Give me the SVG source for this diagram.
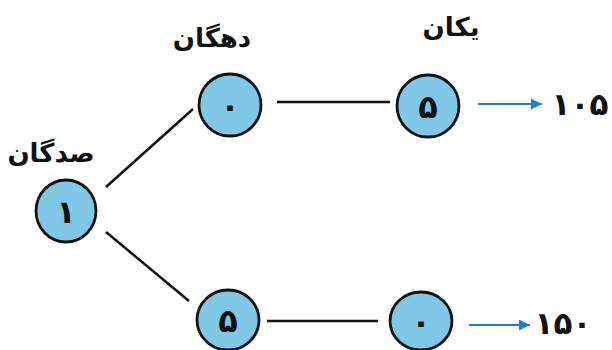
<svg xmlns="http://www.w3.org/2000/svg" width="612" height="350" viewBox="0 0 612 350">
<style>
.node{fill:#80c8e5;stroke:#111;stroke-width:2.8}
.conn{stroke:#111;stroke-width:2.5;fill:none}
.arr{stroke:#1e7fd2;stroke-width:2.2;fill:none}
.lbl{font-family:"DejaVu Sans",sans-serif;font-weight:bold;font-size:26px;fill:#111}
.res{font-family:"DejaVu Sans",sans-serif;font-weight:bold;font-size:31px;fill:#111;text-anchor:middle}
.dig{font-family:"DejaVu Sans",sans-serif;font-weight:bold;font-size:32px;fill:#111;text-anchor:middle}
</style>
<defs>
<marker id="ah" viewBox="0 0 10 10" refX="10" refY="5" markerWidth="20" markerHeight="11" markerUnits="userSpaceOnUse" orient="auto">
<path d="M0,0 L10,5 L0,10 Z" fill="#1e7fd2"/>
</marker>
</defs>
<rect width="612" height="350" fill="#fff"/>
<g id="connectors">
<line class="conn" x1="106" y1="187" x2="193" y2="109"/>
<line class="conn" x1="106" y1="232" x2="189" y2="301"/>
<line class="conn" x1="277" y1="102" x2="390" y2="102"/>
<line class="conn" x1="267" y1="321" x2="378" y2="321"/>
<line class="arr" x1="478" y1="104" x2="542" y2="104" marker-end="url(#ah)"/>
<line class="arr" x1="469" y1="325" x2="530" y2="325" marker-end="url(#ah)"/>
</g>
<g id="label-sadgan"><text class="lbl" x="51" y="162" text-anchor="middle" direction="rtl">صدگان</text></g>
<g id="label-dahgan"><text class="lbl" x="212" y="47" text-anchor="middle" direction="rtl">دهگان</text></g>
<g id="label-yekan"><text class="lbl" x="451" y="36" text-anchor="middle" direction="rtl">یکان</text></g>
<g id="node-hundreds"><ellipse class="node" cx="66" cy="211" rx="30" ry="31"/><text class="dig" x="66" y="223">۱</text></g>
<g id="node-tens-top"><ellipse class="node" cx="230" cy="105" rx="31" ry="31"/><text class="dig" x="230" y="117">۰</text></g>
<g id="node-ones-top"><ellipse class="node" cx="428" cy="106" rx="31" ry="31"/><text class="dig" x="428" y="118">۵</text></g>
<g id="node-tens-bottom"><ellipse class="node" cx="228" cy="320" rx="31" ry="30"/><text class="dig" x="228" y="332">۵</text></g>
<g id="node-ones-bottom"><ellipse class="node" cx="421" cy="321" rx="31" ry="29"/><text class="dig" x="421" y="333">۰</text></g>
<g id="result-top"><text class="res" x="580" y="115" text-anchor="middle">۱۰۵</text></g>
<g id="result-bottom"><text class="res" x="563" y="334" text-anchor="middle">۱۵۰</text></g>
</svg>
